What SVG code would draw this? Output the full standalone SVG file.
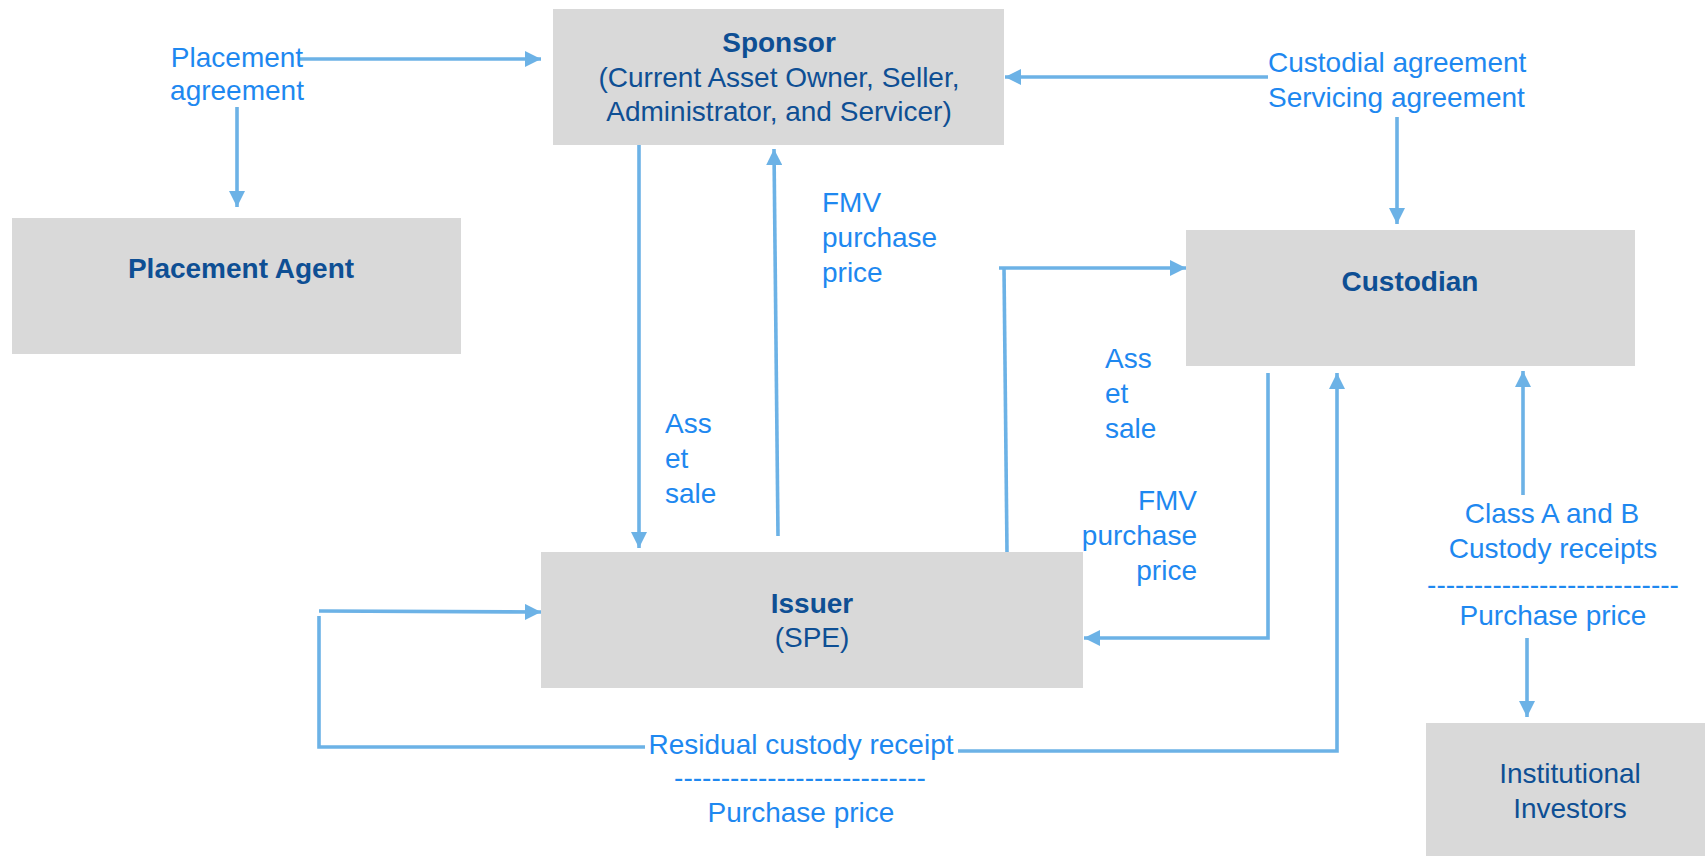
<svg xmlns="http://www.w3.org/2000/svg" width="1705" height="856" viewBox="0 0 1705 856">
  <style>
    .box { fill: #D9D9D9; }
    .node-title { font-family: "Liberation Sans", Arial, sans-serif; font-size: 28px; font-weight: bold; fill: #0E4F94; text-anchor: middle; }
    .node-text { font-family: "Liberation Sans", Arial, sans-serif; font-size: 28px; fill: #0E4F94; text-anchor: middle; }
    .label { font-family: "Liberation Sans", Arial, sans-serif; font-size: 28px; fill: #1E88F0; }
    .mid { text-anchor: middle; }
    .end { text-anchor: end; }
    .wire { fill: none; stroke: #6CB2E6; stroke-width: 3.6; }
  </style>
  <defs>
    <marker id="arrow" viewBox="0 0 10 10" refX="10" refY="5" markerUnits="userSpaceOnUse" markerWidth="16" markerHeight="16" orient="auto">
      <path d="M0,0 L10,5 L0,10 Z" fill="#6CB2E6"/>
    </marker>
  </defs>

  <rect width="1705" height="856" fill="#FFFFFF"/>

  <!-- Parties -->
  <g id="sponsor">
    <rect class="box" x="553" y="9" width="451" height="136"/>
    <text class="node-title" x="779" y="52">Sponsor</text>
    <text class="node-text" x="779" y="87">(Current Asset Owner, Seller,</text>
    <text class="node-text" x="779" y="121">Administrator, and Servicer)</text>
  </g>

  <g id="placement-agent">
    <rect class="box" x="12" y="218" width="449" height="136"/>
    <text class="node-title" x="241" y="278">Placement Agent</text>
  </g>

  <g id="custodian">
    <rect class="box" x="1186" y="230" width="449" height="136"/>
    <text class="node-title" x="1410" y="291">Custodian</text>
  </g>

  <g id="issuer">
    <rect class="box" x="541" y="552" width="542" height="136"/>
    <text class="node-title" x="812" y="613">Issuer</text>
    <text class="node-text" x="812" y="647">(SPE)</text>
  </g>

  <g id="institutional-investors">
    <rect class="box" x="1426" y="723" width="279" height="133"/>
    <text class="node-text" x="1570" y="783">Institutional</text>
    <text class="node-text" x="1570" y="818">Investors</text>
  </g>

  <!-- Flows between parties -->
  <g id="connectors">
    <!-- placement agreement -->
    <path class="wire" d="M300,59 L541,59" marker-end="url(#arrow)"/>
    <path class="wire" d="M237,107 L237,207" marker-end="url(#arrow)"/>
    <!-- custodial / servicing agreement -->
    <path class="wire" d="M1268,77 L1005,77" marker-end="url(#arrow)"/>
    <path class="wire" d="M1397,117 L1397,224" marker-end="url(#arrow)"/>
    <!-- sponsor to issuer: asset sale -->
    <path class="wire" d="M639,145 L639,548" marker-end="url(#arrow)"/>
    <!-- issuer to sponsor: FMV purchase price -->
    <path class="wire" d="M778,536 L774,149" marker-end="url(#arrow)"/>
    <!-- issuer to custodian: asset sale -->
    <path class="wire" d="M1007,552 L1004,268"/>
    <path class="wire" d="M999,268 L1186,268" marker-end="url(#arrow)"/>
    <!-- custodian to issuer: FMV purchase price -->
    <path class="wire" d="M1268,373 L1268,638 L1084,638" marker-end="url(#arrow)"/>
    <!-- residual custody receipt loop -->
    <path class="wire" d="M958,751 L1337,751 L1337,373" marker-end="url(#arrow)"/>
    <path class="wire" d="M645,747 L319,747 L319,616"/>
    <path class="wire" d="M319,611 L541,612" marker-end="url(#arrow)"/>
    <!-- class A and B custody receipts -->
    <path class="wire" d="M1523,495 L1523,371" marker-end="url(#arrow)"/>
    <path class="wire" d="M1527,638 L1527,717" marker-end="url(#arrow)"/>
  </g>

  <!-- Flow labels -->
  <g id="labels">
    <text class="label mid" x="237" y="67">Placement</text>
    <text class="label mid" x="237" y="100">agreement</text>

    <text class="label" x="1268" y="72">Custodial agreement</text>
    <text class="label" x="1268" y="107">Servicing agreement</text>

    <text class="label" x="665" y="433">Ass</text>
    <text class="label" x="665" y="468">et</text>
    <text class="label" x="665" y="503">sale</text>

    <text class="label" x="822" y="212">FMV</text>
    <text class="label" x="822" y="247">purchase</text>
    <text class="label" x="822" y="282">price</text>

    <text class="label" x="1105" y="368">Ass</text>
    <text class="label" x="1105" y="403">et</text>
    <text class="label" x="1105" y="438">sale</text>

    <text class="label end" x="1197" y="510">FMV</text>
    <text class="label end" x="1197" y="545">purchase</text>
    <text class="label end" x="1197" y="580">price</text>

    <text class="label mid" x="801" y="754">Residual custody receipt</text>
    <text class="label mid" x="800" y="787">---------------------------</text>
    <text class="label mid" x="801" y="822">Purchase price</text>

    <text class="label mid" x="1552" y="523">Class A and B</text>
    <text class="label mid" x="1553" y="558">Custody receipts</text>
    <text class="label mid" x="1553" y="594">---------------------------</text>
    <text class="label mid" x="1553" y="625">Purchase price</text>
  </g>
</svg>
